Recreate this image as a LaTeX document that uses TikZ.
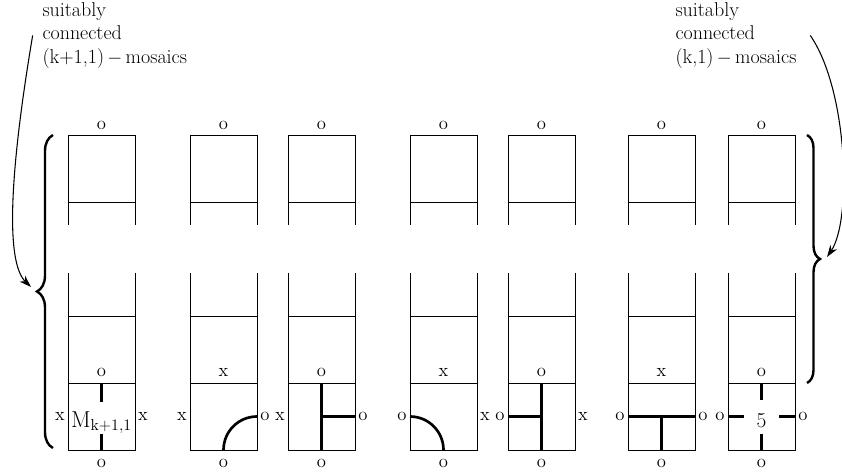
\documentclass[tikz,border=0pt]{standalone}
\usetikzlibrary{decorations.pathreplacing,arrows.meta}
\begin{document}
\begin{tikzpicture}[x=0.75pt, y=-0.75pt, line width=0.75pt,
  lbl/.style={font=\fontsize{14}{14}\selectfont, inner sep=0pt},
  note/.style={font=\fontsize{15}{17.6}\selectfont, align=left, inner sep=0pt},
  strand/.style={line width=2pt},
  brc/.style={line width=1.8pt, decorate, decoration={brace, amplitude=#1}},
  pointer/.style={-{Stealth[length=9pt, width=6pt]}, line width=0.8pt}]
  \useasboundingbox (0,0) rectangle (842,475);
  % frames of the columns
  \foreach \c/\x/\t/\l/\r in {a/68/o/x/x, b/190/x/x/o, c/288/o/x/o, d/410/x/o/x,
                              e/508/o/o/x, f/628/x/o/o, g/728/o/o/o} {
    \draw (\x,225) -- (\x,135) -- (\x+67,135) -- (\x+67,225);
    \draw (\x,202) -- (\x+67,202);
    \draw (\x,273) -- (\x,450) -- (\x+67,450) -- (\x+67,273);
    \draw (\x,316) -- (\x+67,316);
    \draw (\x,383) -- (\x+67,383);
    \node[lbl] (top-\c) at (\x+33.5,125) {o};
    \node[lbl] (mid-\c) at (\x+33.5,372) {\t};
    \node[lbl] (left-\c) at (\x-8,416.5) {\l};
    \node[lbl] (right-\c) at (\x+75,416.5) {\r};
    \node[lbl] (bot-\c) at (\x+33.5,463) {o};
  }
  % tiles
  \draw[strand] (101.5,383) -- (101.5,402);
  \draw[strand] (101.5,434) -- (101.5,450);
  \node[font=\fontsize{17}{17}\selectfont, inner sep=0pt, anchor=base] (mk) at (101.5,427) {$\mathrm{M}_{\mathrm{k+1,1}}$};
  \draw[strand] (223.5,450) .. controls (223.5,431.5) and (238.5,416.5) .. (257,416.5);
  \draw[strand] (321.5,383) -- (321.5,450);
  \draw[strand] (321.5,416.5) -- (355,416.5);
  \draw[strand] (410,416.5) .. controls (428.5,416.5) and (443.5,431.5) .. (443.5,450);
  \draw[strand] (541.5,383) -- (541.5,450);
  \draw[strand] (508,416.5) -- (541.5,416.5);
  \draw[strand] (628,416.5) -- (695,416.5);
  \draw[strand] (661.5,416.5) -- (661.5,450);
  \draw[strand] (761.5,383) -- (761.5,400);
  \draw[strand] (761.5,434) -- (761.5,450);
  \draw[strand] (728,416.5) -- (744,416.5);
  \draw[strand] (779,416.5) -- (795,416.5);
  \node[font=\fontsize{16}{16}\selectfont, inner sep=0pt, anchor=base] (five) at (761.5,427) {5};
  % braces
  \draw[brc=12pt] (53,448) -- (53,135);
  \draw[brc=9.75pt] (807,135) -- (807,383);
  \coordinate (ltip) at (31,287);
  \coordinate (rtip) at (827,257);
  % notes and pointers
  \node[note, anchor=north west] (lefttext) at (42,2) {suitably\\connected\\(k+1,1)\,$-$\,mosaics};
  \node[note, anchor=north west] (righttext) at (675,2) {suitably\\connected\\(k,1)\,$-$\,mosaics};
  \draw[pointer] ([xshift=-7pt]lefttext.west) .. controls (10,170) and (5,262) .. (ltip);
  \draw[pointer] ([xshift=10pt]righttext.east) .. controls (848,90) and (852,220) .. (rtip);
\end{tikzpicture}
\end{document}
